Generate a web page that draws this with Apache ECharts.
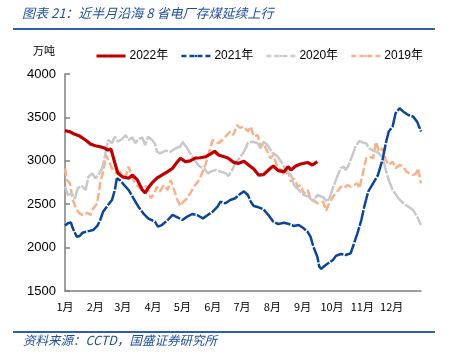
<!DOCTYPE html>
<html><head><meta charset="utf-8">
<script src="https://cdn.jsdelivr.net/npm/echarts@6/dist/echarts.min.js"></script>
<style>html,body{margin:0;padding:0;background:#fff}#c{width:449px;height:359px}</style>
</head><body><div id="c"></div>
<script>
const monthStarts = [0,31,59,90,120,151,181,212,243,273,304,334];
const monthLabels = ['1月','2月','3月','4月','5月','6月','7月','8月','9月','10月','11月','12月'];
const yTicks = [1500,2000,2500,3000,3500,4000];
const seriesNames = ['2022年','2021年','2020年','2019年'];

const days2022 = [0,5,10,15,21,26,31,36,41,44,47,51,54,59,65,69,74,79,82,85,89,94,99,105,110,115,118,123,128,133,138,144,149,153,157,162,167,172,177,183,188,193,198,203,205,210,213,218,224,228,231,236,241,248,253,258];
const values2022 = [3347,3335,3305,3285,3240,3194,3174,3162,3144,3124,3135,2975,2860,2813,2800,2836,2780,2664,2630,2687,2745,2800,2836,2875,2914,2990,3030,2990,3000,3030,3035,3047,3080,3110,3067,3050,3030,2985,2970,2995,2950,2905,2836,2840,2860,2914,2940,2886,2875,2932,2895,2940,2963,2980,2952,2990];

const days2021 = [0,3,6,8,12,15,18,24,29,33,36,39,44,48,51,53,56,59,65,70,75,80,85,92,95,99,105,110,115,120,125,130,135,141,146,151,156,159,164,169,174,179,183,187,190,193,198,203,208,213,218,224,229,234,239,244,248,251,254,258,260,262,265,269,274,277,282,287,292,295,299,303,306,310,315,320,325,328,331,335,338,342,346,351,356,360,364];
const values2021 = [2253,2280,2291,2222,2126,2133,2172,2190,2203,2249,2318,2414,2491,2548,2664,2798,2779,2740,2664,2568,2471,2395,2337,2298,2241,2260,2318,2376,2349,2318,2357,2387,2376,2337,2376,2414,2471,2529,2510,2548,2568,2618,2648,2606,2529,2479,2464,2441,2376,2298,2272,2287,2272,2249,2260,2222,2183,2126,2010,1895,1780,1755,1785,1819,1857,1905,1926,1915,1934,2030,2165,2318,2471,2645,2740,2836,3029,3202,3337,3394,3547,3605,3566,3528,3509,3451,3337];

const days2020 = [0,3,7,10,13,17,21,24,28,31,34,38,41,44,48,51,54,58,62,65,69,72,75,79,82,85,89,92,94,97,103,108,113,118,120,125,130,135,138,142,146,149,154,159,164,167,171,174,177,182,185,187,192,197,200,203,207,212,217,221,226,231,234,239,244,249,254,258,264,268,271,274,277,279,282,285,287,290,294,297,301,305,308,311,315,318,321,325,328,331,335,341,346,351,356,360,364];
const values2020 = [2702,2606,2625,2560,2683,2710,2664,2817,2856,2798,2836,2914,3067,3240,3202,3278,3220,3248,3297,3240,3270,3202,3248,3270,3182,3278,3240,3200,3105,3086,3117,3105,3144,3163,3220,3144,3048,2971,2932,2914,2856,2875,2894,2875,2856,2825,2894,2971,3010,3086,3150,3209,3220,3202,3144,3220,3182,3094,3055,2990,2894,2836,2721,2664,2606,2587,2529,2606,2579,2529,2587,2690,2780,2836,2914,2933,2894,2952,3067,3163,3228,3209,3202,3144,3117,3105,3086,3029,2894,2779,2664,2568,2510,2471,2433,2356,2260];

const days2019 = [0,2,5,8,12,15,18,23,26,29,33,36,39,42,45,49,53,56,62,65,69,73,77,80,84,88,92,94,97,101,105,108,111,115,118,121,125,128,133,136,141,144,147,151,154,157,161,164,169,172,176,179,183,187,190,193,197,200,203,207,210,213,217,221,224,228,231,234,238,241,244,248,251,254,258,264,267,270,274,277,279,282,285,289,292,295,299,301,305,308,311,315,318,321,325,328,331,335,338,342,346,349,352,356,359,361,364];
const values2019 = [2914,2779,2740,2548,2433,2395,2376,2402,2376,2452,2510,2740,2875,3067,2990,2894,2856,2875,2817,2933,2798,2721,2683,2721,2695,2568,2645,2702,2645,2721,2664,2779,2683,2548,2479,2529,2568,2625,2721,2760,2875,2971,3086,3240,3220,3202,3240,3278,3337,3297,3412,3380,3394,3337,3394,3278,3297,3163,3202,3105,3029,3067,2933,2894,2836,2875,2760,2798,2702,2721,2625,2664,2568,2548,2510,2529,2425,2510,2587,2625,2625,2702,2683,2721,2702,2721,2740,2683,2875,3029,3048,3029,3220,3105,3144,3010,2952,2990,2914,2952,2933,2875,2856,2836,2856,2914,2740];

const pairs = (d, v) => d.map((x, i) => [x, v[i]]);
const chart = echarts.init(document.getElementById('c'), null, {renderer: 'canvas'});
const numFont = 'Liberation Sans, Arial, Noto Sans CJK SC, sans-serif';
const cjkFont = 'Noto Sans CJK SC, sans-serif';

const option = {
  animation: false,
  backgroundColor: '#fff',
  grid: {left: 65, right: 28, top: 74, bottom: 68, containLabel: false},
  legend: {
    left: 90, top: 45, itemWidth: 29, itemHeight: 3, itemGap: 12,
    textStyle: {fontFamily: numFont, fontSize: 12, color: '#000', padding: [0,0,0,-1]},
    data: [
      {name: seriesNames[0], lineStyle: {type: 'solid', width: 3}},
      {name: seriesNames[1], lineStyle: {type: [5,3], width: 2.5}},
      {name: seriesNames[2], lineStyle: {type: [5,3], width: 2.5}},
      {name: seriesNames[3], lineStyle: {type: [5,3], width: 2.5}}
    ]
  },
  xAxis: {
    type: 'value', min: 0, max: 364,
    splitLine: {show: false},
    axisLine: {show: true, lineStyle: {color: '#7f7f7f', width: 1.5}},
    axisTick: {show: false},
    axisLabel: {
      customValues: monthStarts,
      formatter: v => monthLabels[monthStarts.indexOf(v)] || '',
      fontFamily: cjkFont, fontSize: 11, color: '#000', margin: 10
    }
  },
  yAxis: {
    type: 'value', min: 1500, max: 4000, interval: 500,
    splitLine: {show: false},
    axisLine: {show: true, lineStyle: {color: '#7f7f7f', width: 1.5}},
    axisTick: {show: true, inside: true, length: 5, lineStyle: {color: '#7f7f7f', width: 1.5}},
    axisLabel: {fontFamily: numFont, fontSize: 13, color: '#000', margin: 9,
      formatter: v => (yTicks.indexOf(v) >= 0 ? String(v) : '')}
  },
  series: [
    {name: seriesNames[3], type: 'line', data: pairs(days2019, values2019), symbol: 'none', z: 2,
     lineStyle: {color: '#f7b28a', width: 2.5, type: [8,3]}, itemStyle: {color: '#f7b28a'}},
    {name: seriesNames[2], type: 'line', data: pairs(days2020, values2020), symbol: 'none', z: 2,
     lineStyle: {color: '#c9c9c9', width: 2.5, type: [16,1.5]}, itemStyle: {color: '#c9c9c9'}},
    {name: seriesNames[1], type: 'line', data: pairs(days2021, values2021), symbol: 'none', z: 3,
     lineStyle: {color: '#0b4596', width: 2.5, type: [16,1.5]}, itemStyle: {color: '#0b4596'}},
    {name: seriesNames[0], type: 'line', data: pairs(days2022, values2022), symbol: 'none', z: 4,
     lineStyle: {color: '#c00000', width: 3.2}, itemStyle: {color: '#c00000'}}
  ],
  graphic: [
    {type: 'text', left: 22, top: 7, style: {text: '图表 21：近半月沿海 8 省电厂存煤延续上行', fill: '#1f4e9c', font: 'italic 13px "Noto Sans CJK SC", sans-serif'}},
    {type: 'rect', shape: {x: 13, y: 28, width: 422, height: 2}, style: {fill: '#2e5fa8'}},
    {type: 'text', left: 33, top: 45, style: {text: '万吨', fill: '#000', font: '11px "Noto Sans CJK SC", sans-serif'}},
    {type: 'rect', shape: {x: 13, y: 331, width: 422, height: 2}, style: {fill: '#2e5fa8'}},
    {type: 'text', left: 23, top: 334, style: {text: '资料来源：CCTD，国盛证券研究所', fill: '#1f4e9c', font: 'italic 12.5px "Noto Sans CJK SC", sans-serif'}}
  ]
};
chart.setOption(option);
</script>
</body></html>
